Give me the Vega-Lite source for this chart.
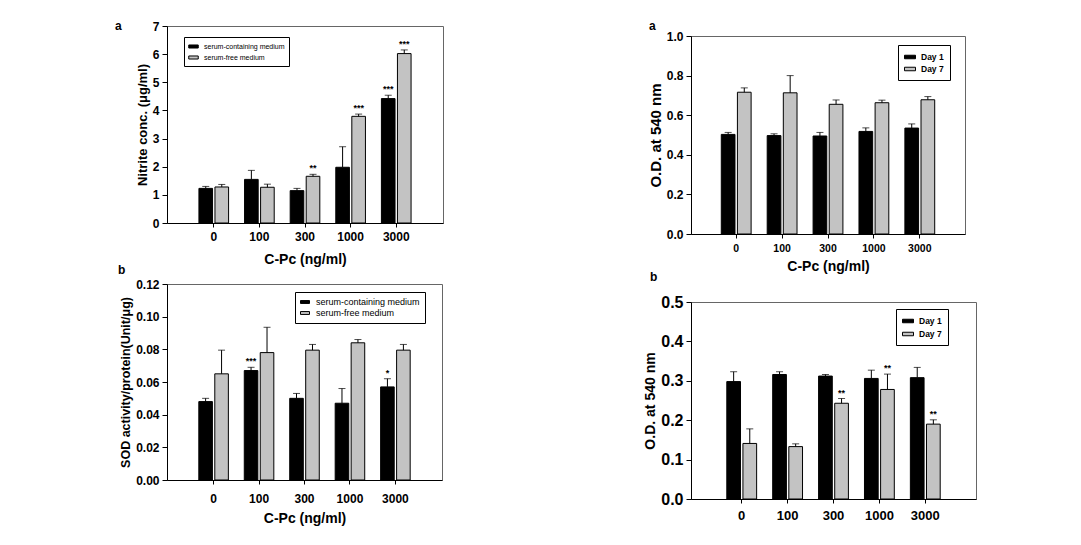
{
  "$schema": "https://vega.github.io/schema/vega-lite/v6.json",
  "background": "white",
  "padding": {"left": 114, "top": 9, "right": 5, "bottom": 5},
  "config": {
    "font": "Liberation Sans",
    "view": {"stroke": "#666666", "strokeWidth": 1},
    "axis": {"grid": false, "labelOverlap": false, "labelBound": false, "labelFlush": false, "domainColor": "black", "tickColor": "black", "labelColor": "black", "titleColor": "black", "labelFont": "Liberation Sans", "titleFont": "Liberation Sans", "labelFontWeight": "bold", "titleFontWeight": "bold", "tickSize": 5, "labelFontSize": 12, "titleFontSize": 13, "labelPadding": 3, "titlePadding": 3},
    "title": {"anchor": "start", "frame": "group", "fontSize": 12, "fontWeight": "bold", "font": "Liberation Sans", "baseline": "alphabetic", "color": "black"},
    "legend": {"labelFont": "Liberation Sans", "labelColor": "black", "labelLimit": 300}
  },
  "resolve": {"scale": {"color": "independent", "x": "independent", "y": "independent", "xOffset": "independent"}, "legend": {"color": "independent"}, "axis": {"x": "independent", "y": "independent"}},
  "spacing": 199,
  "hconcat": [
    {
      "spacing": -4,
      "resolve": {"scale": {"color": "independent", "x": "independent", "y": "independent", "xOffset": "independent"}, "legend": {"color": "independent"}, "axis": {"x": "independent", "y": "independent"}},
      "vconcat": [
        {
          "width": 276, "height": 197,
          "title": {"text": "a", "orient": "left", "anchor": "end", "angle": 0, "align": "right", "baseline": "middle", "offset": 8},
          "data": {"values": [
            {"conc": "0", "series": "serum-containing medium", "value": 1.23, "hi": 1.30, "sig": ""},
            {"conc": "0", "series": "serum-free medium", "value": 1.28, "hi": 1.37, "sig": ""},
            {"conc": "100", "series": "serum-containing medium", "value": 1.55, "hi": 1.87, "sig": ""},
            {"conc": "100", "series": "serum-free medium", "value": 1.27, "hi": 1.38, "sig": ""},
            {"conc": "300", "series": "serum-containing medium", "value": 1.15, "hi": 1.23, "sig": ""},
            {"conc": "300", "series": "serum-free medium", "value": 1.66, "hi": 1.73, "sig": "**"},
            {"conc": "1000", "series": "serum-containing medium", "value": 1.98, "hi": 2.71, "sig": ""},
            {"conc": "1000", "series": "serum-free medium", "value": 3.79, "hi": 3.87, "sig": "***"},
            {"conc": "3000", "series": "serum-containing medium", "value": 4.42, "hi": 4.54, "sig": "***"},
            {"conc": "3000", "series": "serum-free medium", "value": 6.02, "hi": 6.15, "sig": "***"}
          ]},
          "encoding": {
            "x": {"field": "conc", "type": "nominal", "sort": ["0", "100", "300", "1000", "3000"], "scale": {"paddingInner": 0.35, "paddingOuter": 0.7}, "axis": {"title": "C-Pc (ng/ml)", "labelAngle": 0, "labelPadding": 4, "titlePadding": 10, "titleFontSize": 14, "tickSize": 4}},
            "xOffset": {"field": "series", "type": "nominal", "sort": ["serum-containing medium", "serum-free medium"], "scale": {"paddingInner": 0.15}}
          },
          "layer": [
            {"mark": {"type": "bar", "stroke": "black", "strokeWidth": 1},
             "encoding": {
               "y": {"field": "value", "type": "quantitative", "title": "Nitrite conc. (μg/ml)", "scale": {"domain": [0, 7], "nice": false}, "axis": {"values": [0, 1, 2, 3, 4, 5, 6, 7], "format": "d", "labelOverlap": false, "tickCount": 8}},
               "color": {"field": "series", "type": "nominal", "scale": {"domain": ["serum-containing medium", "serum-free medium"], "range": ["#000000", "#c3c3c3"]},
                 "legend": {"orient": "none", "legendX": 17, "legendY": 11, "title": null, "strokeColor": "black", "fillColor": "white", "padding": 4, "labelFontSize": 7, "symbolType": "M-1,-0.32H1V0.32H-1Z", "symbolSize": 90, "symbolStrokeColor": "black", "symbolStrokeWidth": 1, "rowPadding": 1, "labelOffset": 5}}
             }},
            {"mark": {"type": "rule", "color": "black", "strokeWidth": 1},
             "encoding": {"y": {"field": "value", "type": "quantitative", "title": "Nitrite conc. (μg/ml)"}, "y2": {"field": "hi"}}},
            {"mark": {"type": "tick", "color": "black", "size": 7, "thickness": 1},
             "encoding": {"y": {"field": "hi", "type": "quantitative", "title": "Nitrite conc. (μg/ml)"}}},
            {"mark": {"type": "text", "dy": -6, "fontSize": 9, "fontWeight": "bold", "color": "black"},
             "encoding": {"y": {"field": "hi", "type": "quantitative", "title": "Nitrite conc. (μg/ml)"}, "text": {"field": "sig"}}}
          ]
        },
        {
          "width": 275, "height": 196,
          "title": {"text": "b", "dx": -49, "offset": 1},
          "data": {"values": [
            {"conc": "0", "series": "serum-containing medium", "value": 0.048, "hi": 0.050, "sig": ""},
            {"conc": "0", "series": "serum-free medium", "value": 0.065, "hi": 0.0795, "sig": ""},
            {"conc": "100", "series": "serum-containing medium", "value": 0.067, "hi": 0.069, "sig": "***"},
            {"conc": "100", "series": "serum-free medium", "value": 0.078, "hi": 0.0935, "sig": ""},
            {"conc": "300", "series": "serum-containing medium", "value": 0.050, "hi": 0.053, "sig": ""},
            {"conc": "300", "series": "serum-free medium", "value": 0.0795, "hi": 0.083, "sig": ""},
            {"conc": "1000", "series": "serum-containing medium", "value": 0.047, "hi": 0.056, "sig": ""},
            {"conc": "1000", "series": "serum-free medium", "value": 0.084, "hi": 0.086, "sig": ""},
            {"conc": "3000", "series": "serum-containing medium", "value": 0.057, "hi": 0.062, "sig": "*"},
            {"conc": "3000", "series": "serum-free medium", "value": 0.0795, "hi": 0.083, "sig": ""}
          ]},
          "encoding": {
            "x": {"field": "conc", "type": "nominal", "sort": ["0", "100", "300", "1000", "3000"], "scale": {"paddingInner": 0.35, "paddingOuter": 0.7}, "axis": {"title": "C-Pc (ng/ml)", "labelAngle": 0, "labelPadding": 9, "titlePadding": 7, "titleFontSize": 14, "tickSize": 4}},
            "xOffset": {"field": "series", "type": "nominal", "sort": ["serum-containing medium", "serum-free medium"], "scale": {"paddingInner": 0.15}}
          },
          "layer": [
            {"mark": {"type": "bar", "stroke": "black", "strokeWidth": 1},
             "encoding": {
               "y": {"field": "value", "type": "quantitative", "title": "SOD activity/protein(Unit/μg)", "scale": {"domain": [0, 0.12], "nice": false}, "axis": {"values": [0, 0.02, 0.04, 0.06, 0.08, 0.1, 0.12], "format": ".2f", "labelOverlap": false, "tickCount": 7, "titleFontSize": 12.5}},
               "color": {"field": "series", "type": "nominal", "scale": {"domain": ["serum-containing medium", "serum-free medium"], "range": ["#000000", "#c3c3c3"]},
                 "legend": {"orient": "none", "legendX": 128, "legendY": 8, "title": null, "strokeColor": "black", "fillColor": "white", "padding": 5, "labelFontSize": 9, "symbolType": "M-1,-0.32H1V0.32H-1Z", "symbolSize": 81, "symbolStrokeColor": "black", "symbolStrokeWidth": 1, "rowPadding": 1, "labelOffset": 6}}
             }},
            {"mark": {"type": "rule", "color": "black", "strokeWidth": 1},
             "encoding": {"y": {"field": "value", "type": "quantitative", "title": "SOD activity/protein(Unit/μg)"}, "y2": {"field": "hi"}}},
            {"mark": {"type": "tick", "color": "black", "size": 7, "thickness": 1},
             "encoding": {"y": {"field": "hi", "type": "quantitative", "title": "SOD activity/protein(Unit/μg)"}}},
            {"mark": {"type": "text", "dy": -6, "fontSize": 9, "fontWeight": "bold", "color": "black"},
             "encoding": {"y": {"field": "hi", "type": "quantitative", "title": "SOD activity/protein(Unit/μg)"}, "text": {"field": "sig"}}}
          ]
        }
      ]
    },
    {
      "spacing": -18,
      "resolve": {"scale": {"color": "independent", "x": "independent", "y": "independent", "xOffset": "independent"}, "legend": {"color": "independent"}, "axis": {"x": "independent", "y": "independent"}},
      "vconcat": [
        {
          "width": 274, "height": 1,
          "view": {"stroke": null},
          "data": {"values": []},
          "mark": {"type": "point", "opacity": 0},
          "encoding": {}
        },
        {
          "spacing": -4,
          "resolve": {"scale": {"color": "independent", "x": "independent", "y": "independent", "xOffset": "independent"}, "legend": {"color": "independent"}, "axis": {"x": "independent", "y": "independent"}},
          "vconcat": [
            {
              "width": 274, "height": 198,
              "title": {"text": ["", "a"], "dx": -42, "offset": -15, "baseline": "bottom", "lineHeight": 10},
              "data": {"values": [
                {"conc": "0", "series": "Day 1", "value": 0.503, "hi": 0.513, "sig": ""},
                {"conc": "0", "series": "Day 7", "value": 0.716, "hi": 0.738, "sig": ""},
                {"conc": "100", "series": "Day 1", "value": 0.497, "hi": 0.506, "sig": ""},
                {"conc": "100", "series": "Day 7", "value": 0.713, "hi": 0.800, "sig": ""},
                {"conc": "300", "series": "Day 1", "value": 0.495, "hi": 0.513, "sig": ""},
                {"conc": "300", "series": "Day 7", "value": 0.655, "hi": 0.677, "sig": ""},
                {"conc": "1000", "series": "Day 1", "value": 0.518, "hi": 0.536, "sig": ""},
                {"conc": "1000", "series": "Day 7", "value": 0.663, "hi": 0.676, "sig": ""},
                {"conc": "3000", "series": "Day 1", "value": 0.535, "hi": 0.556, "sig": ""},
                {"conc": "3000", "series": "Day 7", "value": 0.678, "hi": 0.694, "sig": ""}
              ]},
              "encoding": {
                "x": {"field": "conc", "type": "nominal", "sort": ["0", "100", "300", "1000", "3000"], "scale": {"paddingInner": 0.35, "paddingOuter": 0.66}, "axis": {"title": "C-Pc (ng/ml)", "labelAngle": 0, "labelPadding": 5, "titlePadding": 6, "labelFontSize": 10.5, "titleFontSize": 14, "tickSize": 4}},
                "xOffset": {"field": "series", "type": "nominal", "sort": ["Day 1", "Day 7"], "scale": {"paddingInner": 0.15}}
              },
              "layer": [
                {"mark": {"type": "bar", "stroke": "black", "strokeWidth": 1},
                 "encoding": {
                   "y": {"field": "value", "type": "quantitative", "title": "O.D. at 540 nm", "scale": {"domain": [0, 1], "nice": false}, "axis": {"values": [0, 0.2, 0.4, 0.6, 0.8, 1.0], "format": ".1f", "labelOverlap": false, "tickCount": 6, "titleFontSize": 15}},
                   "color": {"field": "series", "type": "nominal", "scale": {"domain": ["Day 1", "Day 7"], "range": ["#000000", "#c3c3c3"]},
                     "legend": {"orient": "none", "legendX": 207, "legendY": 9, "title": null, "strokeColor": "black", "fillColor": "white", "padding": 6, "labelFontSize": 8.5, "labelFontWeight": "bold", "symbolType": "M-1,-0.32H1V0.32H-1Z", "symbolSize": 121, "symbolStrokeColor": "black", "symbolStrokeWidth": 1, "rowPadding": 1, "labelOffset": 5}}
                 }},
                {"mark": {"type": "rule", "color": "black", "strokeWidth": 1},
                 "encoding": {"y": {"field": "value", "type": "quantitative", "title": "O.D. at 540 nm"}, "y2": {"field": "hi"}}},
                {"mark": {"type": "tick", "color": "black", "size": 7, "thickness": 1},
                 "encoding": {"y": {"field": "hi", "type": "quantitative", "title": "O.D. at 540 nm"}}}
              ]
            },
            {
              "width": 285, "height": 197,
              "title": {"text": "b", "dx": -41, "offset": 10},
              "data": {"values": [
                {"conc": "0", "series": "Day 1", "value": 0.298, "hi": 0.323, "sig": ""},
                {"conc": "0", "series": "Day 7", "value": 0.141, "hi": 0.178, "sig": ""},
                {"conc": "100", "series": "Day 1", "value": 0.316, "hi": 0.323, "sig": ""},
                {"conc": "100", "series": "Day 7", "value": 0.133, "hi": 0.140, "sig": ""},
                {"conc": "300", "series": "Day 1", "value": 0.312, "hi": 0.316, "sig": ""},
                {"conc": "300", "series": "Day 7", "value": 0.243, "hi": 0.255, "sig": "**"},
                {"conc": "1000", "series": "Day 1", "value": 0.306, "hi": 0.327, "sig": ""},
                {"conc": "1000", "series": "Day 7", "value": 0.278, "hi": 0.317, "sig": "**"},
                {"conc": "3000", "series": "Day 1", "value": 0.308, "hi": 0.334, "sig": ""},
                {"conc": "3000", "series": "Day 7", "value": 0.190, "hi": 0.201, "sig": "**"}
              ]},
              "encoding": {
                "x": {"field": "conc", "type": "nominal", "sort": ["0", "100", "300", "1000", "3000"], "scale": {"paddingInner": 0.35, "paddingOuter": 0.78}, "axis": {"title": null, "labelAngle": 0, "labelPadding": 6, "labelFontSize": 13, "tickSize": 4}},
                "xOffset": {"field": "series", "type": "nominal", "sort": ["Day 1", "Day 7"], "scale": {"paddingInner": 0.15}}
              },
              "layer": [
                {"mark": {"type": "bar", "stroke": "black", "strokeWidth": 1},
                 "encoding": {
                   "y": {"field": "value", "type": "quantitative", "title": "O.D. at 540 nm", "scale": {"domain": [0, 0.5], "nice": false}, "axis": {"values": [0, 0.1, 0.2, 0.3, 0.4, 0.5], "format": ".1f", "labelOverlap": false, "tickCount": 6, "labelFontSize": 16, "titleFontSize": 14}},
                   "color": {"field": "series", "type": "nominal", "scale": {"domain": ["Day 1", "Day 7"], "range": ["#000000", "#c3c3c3"]},
                     "legend": {"orient": "none", "legendX": 205, "legendY": 7, "title": null, "strokeColor": "black", "fillColor": "white", "padding": 6, "labelFontSize": 8.5, "labelFontWeight": "bold", "symbolType": "M-1,-0.32H1V0.32H-1Z", "symbolSize": 121, "symbolStrokeColor": "black", "symbolStrokeWidth": 1, "rowPadding": 2, "labelOffset": 5}}
                 }},
                {"mark": {"type": "rule", "color": "black", "strokeWidth": 1},
                 "encoding": {"y": {"field": "value", "type": "quantitative", "title": "O.D. at 540 nm"}, "y2": {"field": "hi"}}},
                {"mark": {"type": "tick", "color": "black", "size": 7, "thickness": 1},
                 "encoding": {"y": {"field": "hi", "type": "quantitative", "title": "O.D. at 540 nm"}}},
                {"mark": {"type": "text", "dy": -6, "fontSize": 9, "fontWeight": "bold", "color": "black"},
                 "encoding": {"y": {"field": "hi", "type": "quantitative", "title": "O.D. at 540 nm"}, "text": {"field": "sig"}}}
              ]
            }
          ]
        }
      ]
    }
  ]
}
